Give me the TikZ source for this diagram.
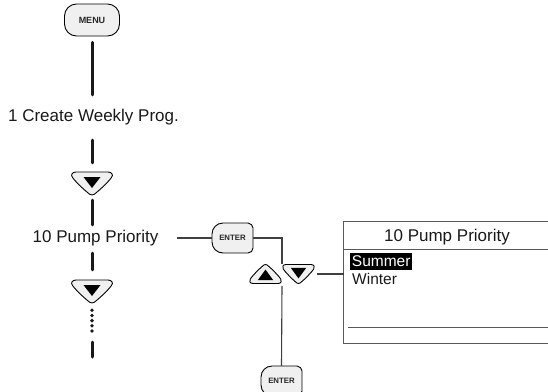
\documentclass[tikz,border=0pt]{standalone}
\usepackage{fontspec}
\setmainfont{Liberation Sans}
\usetikzlibrary{calc}
\definecolor{btnfill}{HTML}{F0F0F0}
\begin{document}
\begin{tikzpicture}[x=1pt,y=-1pt,
  txt/.style={inner sep=0, font=\fontsize{17}{20}\selectfont, text=black!90, minimum height=24},
  stxt/.style={inner sep=0, font=\fontsize{15.5}{18}\selectfont},
  colline/.style={line width=3pt, line cap=round, black!90},
  dotline/.style={line width=3.8pt, line cap=round, black!90, dash pattern=on 0pt off 5.2pt},
  conn/.style={line width=1.1pt, black!75},
  scr/.style={line width=1.3pt, black!65},
  btnshape/.style={draw=black, line width=0.9pt, fill=btnfill, line join=round},
  pics/vbtn/.style n args={4}{code={%
    \node[inner sep=0, minimum width=#1, minimum height=#2] (-b) {};
    \begin{scope}[xscale=#1/41, yscale=#3*#2/23]
      \path[btnshape] (-16,-11.5) -- (16,-11.5)
        .. controls (20,-11.5) and (21.5,-8.5) .. (19.5,-6)
        .. controls (15,0) and (6,8) .. (2.2,10.8)
        .. controls (1,11.7) and (-1,11.7) .. (-2.2,10.8)
        .. controls (-6,8) and (-15,0) .. (-19.5,-6)
        .. controls (-21.5,-8.5) and (-20,-11.5) .. (-16,-11.5) -- cycle;
      \begin{scope}[shift={(0,-1)}, scale=#4]
        \fill[black] (-8.5,-5.5) -- (8.5,-5.5) -- (0,5.5) -- cycle;
      \end{scope}
    \end{scope}
  }},
  pics/enterbtn/.style={code={%
    \path[btnshape] (-9.5,-15) -- (15.5,-15)
      .. controls (18.26,-15) and (20.5,-12.24) .. (20.5,-10)
      -- (20.5,10)
      .. controls (20.5,12.76) and (18.26,15) .. (15.5,15)
      -- (-9.5,15)
      .. controls (-15.57,15) and (-20.5,10.07) .. (-20.5,4)
      -- (-20.5,-4)
      .. controls (-20.5,-10.07) and (-15.57,-15) .. (-9.5,-15) -- cycle;
    \node[inner sep=0, minimum width=41, minimum height=30,
      font=\bfseries\fontsize{7.8}{9}\selectfont, text=black!85] (-b) {ENTER};
  }}
]
\useasboundingbox (0,0) rectangle (548,391);
\clip (0,0) rectangle (548,391);

% left column
\node[draw=black, line width=0.9pt, fill=btnfill, rounded corners=12,
  minimum width=55, minimum height=32, inner sep=0,
  font=\bfseries\fontsize{9}{10}\selectfont, text=black!85] (menu) at (92,20) {MENU};
\node[txt] (create) at (93.5,117) {1 Create Weekly Prog.};
\pic (dn1) at (92,183.5) {vbtn={41}{23}{1}{1}};
\node[txt] (pump) at (95.5,238) {10 Pump Priority};
\pic (dn2) at (92,291.5) {vbtn={41}{23}{1}{1}};
\coordinate (dotend) at (92,331);
\coordinate (colend) at (92,357);

\draw[colline, shorten <=6, shorten >=10] (menu.south) -- (menu.south |- create.north);
\draw[colline, shorten <=11, shorten >=9] (dn1-b.north |- create.south) -- (dn1-b.north);
\draw[colline, shorten <=5, shorten >=1] (dn1-b.south) -- (dn1-b.south |- pump.north);
\draw[colline, shorten <=3, shorten >=10] (dn2-b.north |- pump.south) -- (dn2-b.north);
\draw[dotline, shorten <=7] (dn2-b.south) -- (dotend);
\draw[colline, shorten <=39] (dn2-b.south) -- (colend);

% right part
\pic (enter1) at (232.5,238) {enterbtn};
\draw[conn, shorten <=18] (pump.east) -- (enter1-b.west);
\pic (up) at (265.5,274) {vbtn={32}{19}{-1}{1.15}};
\pic (sdn) at (298.5,274) {vbtn={32}{19}{1}{1.15}};
\coordinate (jtop) at (282,264);
\coordinate (jbot) at (282,286);
\draw[conn] (enter1-b.east) -| (jtop);
\pic (enter2) at (281.5,381) {enterbtn};
\draw[conn] (jbot) -- (enter2-b.north);

% screen
\node[inner sep=0, minimum width=208, minimum height=121] (screen) at (448,282.5) {};
\draw[scr] (screen.north east) -- (screen.north west) -- (screen.south west) -- (screen.south east);
\draw[scr] ($(screen.north west)+(0,28)$) -- ($(screen.north east)+(0,28)$);
\draw[scr] ($(screen.south west)+(4,-16)$) -- ($(screen.south east)+(0,-16)$);
\draw[conn, shorten <=2] (sdn-b.east) -- (sdn-b.east -| screen.west);
\node[txt] (title) at (447,237) {10 Pump Priority};
\node[stxt, fill=black, text=white, minimum height=17, minimum width=62, anchor=west] (summer) at (350,261.5) {Summer};
\node[stxt, anchor=west, text=black!90] (winter) at (352,279) {Winter};
\end{tikzpicture}
\end{document}
